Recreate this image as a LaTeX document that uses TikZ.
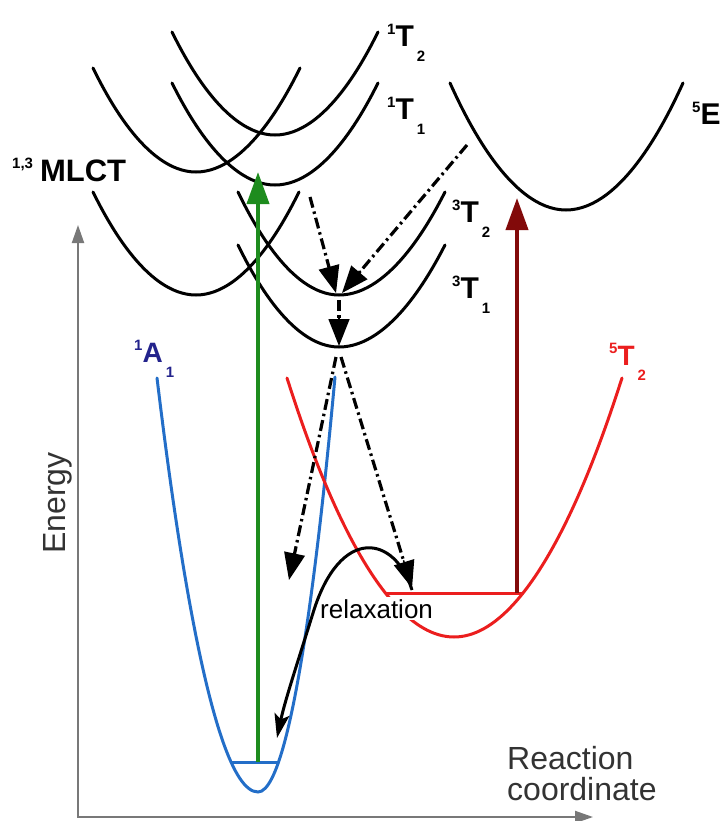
\documentclass[tikz,border=0pt]{standalone}
\usepackage{fontspec}
\setmainfont{Liberation Sans}
\usetikzlibrary{arrows.meta,calc}
\definecolor{pesblue}{RGB}{35,110,200}
\definecolor{pesred}{RGB}{235,30,30}
\definecolor{pesgreen}{RGB}{30,140,30}
\definecolor{pesdarkred}{RGB}{130,10,10}
\definecolor{labblue}{RGB}{35,35,140}
\definecolor{axisgray}{RGB}{120,120,120}
\newcommand\fsz[1]{\fontsize{#1}{#1}\selectfont}
\newcommand\stlab[3]{\raisebox{12pt}{\fsz{15}#1}#2\kern3pt\raisebox{-15pt}{\fsz{15}#3}}
\newcommand\decayarrow[2]{%
  \draw[dashline] (#1) -- ($(#2)!20pt!(#1)$);
  \draw[line width=1.5pt, -{Triangle[length=27pt,width=21pt]}] ($(#2)!29pt!(#1)$) -- (#2);}
\begin{document}
\begin{tikzpicture}[x=1pt,y=-1pt,
  pes/.style={line width=3pt, line cap=round},
  dashline/.style={line width=3.2pt, dash pattern=on 11pt off 4pt on 2.5pt off 4pt},
  statelab/.style={anchor=base west, inner sep=0pt, font=\bfseries\fsz{30}},
  axis/.style={draw=axisgray, line width=2pt, {Triangle[length=18pt,width=12pt]}-{Triangle[length=18pt,width=12pt]}},
  bigarrow/.style={line width=4pt, -{Triangle[length=32pt,width=22pt]}},
]
\useasboundingbox (0,0) rectangle (720,821);

% axes
\coordinate (ytip) at (78,225);
\coordinate (origin) at (78,817);
\coordinate (xtip) at (593,817);
\draw[axis] (ytip) -- (origin) -- (xtip);

% black potential curves
\draw[pes] (172,32) parabola bend (275,135) (378,32);
\draw[pes] (172,83) parabola bend (275,185) (378,83);
\draw[pes] (93,68) parabola bend (196,172) (300,68);
\draw[pes] (93,192) parabola bend (196,295) (299,192);
\draw[pes] (238,192) parabola bend (339,295) (445,192);
\draw[pes] (238,245) parabola bend (339,347) (445,245);
\draw[pes] (450,83) parabola bend (566,210) (683,83);

% 1A1 (blue)
\draw[pes, pesblue] (157,378) parabola bend (258,792) (335,377);
\draw[line width=3pt, pesblue] (231,762) -- (279,762);

% 5T2 (red)
\draw[pes, pesred] (287,378) parabola bend (454,637) (622,378);
\draw[line width=3pt, pesred] (385,593) -- (523,593);

% relaxation label
\node[anchor=base west, font=\fsz{26}, fill=white, inner sep=2pt] (relax) at (318,618) {relaxation};

% coordinates of arrows
\coordinate (gbase) at (258,762);
\coordinate (gtip) at (258,172);
\coordinate (rbase) at (517,593);
\coordinate (rtip) at (517,198);
\coordinate (aS) at (310,197);
\coordinate (aT) at (336,293);
\coordinate (bS) at (467,145);
\coordinate (bT) at (342,293);
\coordinate (cS) at (339,300);
\coordinate (cT) at (339,346);
\coordinate (dS) at (336,357);
\coordinate (dT) at (289,580);
\coordinate (eS) at (341,357);
\coordinate (eT) at (412,588);
\coordinate (relS) at (412,590);
\coordinate (relM) at (313,613);
\coordinate (relE) at (277,738);

% dashed decay arrows
\decayarrow{aS}{aT}
\decayarrow{bS}{bT}
\decayarrow{cS}{cT}
\decayarrow{dS}{dT}
\decayarrow{eS}{eT}

% relaxation arrow
\draw[line width=3pt, -{Stealth[length=24pt,width=15pt,inset=5pt]}] (relS) .. controls (395,535) and (340,525) .. (relM) .. controls (300,655) and (285,700) .. (relE);

% excitation arrows
\draw[bigarrow, pesgreen] (gbase) -- (gtip);
\draw[bigarrow, pesdarkred] (rbase) -- (rtip);

% state labels
\node[statelab] (l1T2) at (387,47) {\stlab{1}{T}{2}};
\node[statelab] (l1T1) at (387,120) {\stlab{1}{T}{1}};
\node[statelab] (l5E) at (692,125) {\stlab{5}{E}{}};
\node[statelab, font=\bfseries\fsz{31}] (lMLCT) at (12,182) {\raisebox{13pt}{\fsz{15}1,3}\kern7pt MLCT};
\node[statelab] (l3T2) at (452,222) {\stlab{3}{T}{2}};
\node[statelab] (l3T1) at (452,298) {\stlab{3}{T}{1}};
\node[statelab, text=labblue, font=\bfseries\fsz{28}] (l1A1) at (134,362) {\stlab{1}{A}{1}};
\node[statelab, text=pesred, font=\bfseries\fsz{28}] (l5T2) at (609,365) {\stlab{5}{T}{2}};

% axis labels
\node[rotate=90, anchor=base, font=\fsz{32}, text=black!80, inner sep=0pt] (energy) at (65,503) {Energy};
\node[anchor=north west, font=\fsz{32}, text=black!80, inner sep=0pt, align=left] (rc) at (507,746) {Reaction\\[-1pt]coordinate};
\end{tikzpicture}
\end{document}
